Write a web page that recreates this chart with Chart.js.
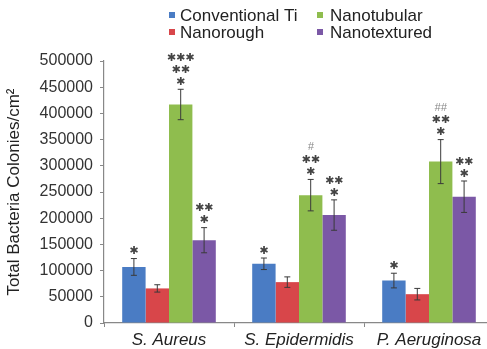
<!DOCTYPE html>
<html>
<head>
<meta charset="utf-8">
<script src="https://cdn.jsdelivr.net/npm/chart.js@4.4.1/dist/chart.umd.min.js"></script>
<style>
html,body{margin:0;padding:0;background:#fff;overflow:hidden;width:487px;height:349px;}
canvas{display:block;}
</style>
</head>
<body>
<canvas id="c" width="494" height="349"></canvas>
<script>
const categories = ['S. Aureus', 'S. Epidermidis', 'P. Aeruginosa'];
const seriesNames = ['Conventional Ti', 'Nanorough', 'Nanotubular', 'Nanotextured'];
const seriesColors = ['#4a7cc4', '#d8464a', '#8fbd4e', '#7b58a6'];
const conventional = [107000, 113000, 81000];
const nanorough = [66000, 78000, 55000];
const nanotubular = [417000, 244000, 308000];
const nanotextured = [158000, 206000, 241000];
const conventionalErr = [16000, 11000, 14000];
const nanoroughErr = [7000, 10000, 11000];
const nanotubularErr = [29000, 30000, 42000];
const nanotexturedErr = [24000, 29000, 30000];
const conventionalSig = [['*'], ['*'], ['*']];
const nanoroughSig = [[], [], []];
const nanotubularSig = [['***', '**', '*'], ['#', '**', '*'], ['##', '**', '*']];
const nanotexturedSig = [['**', '*'], ['**', '*'], ['**', '*']];
const yTicks = [0, 50000, 100000, 150000, 200000, 250000, 300000, 350000, 400000, 450000, 500000];

const values = [conventional, nanorough, nanotubular, nanotextured];
const errors = [conventionalErr, nanoroughErr, nanotubularErr, nanotexturedErr];
const sigs = [conventionalSig, nanoroughSig, nanotubularSig, nanotexturedSig];

const extras = {
  id: 'extras',
  afterDatasetsDraw(chart) {
    const ctx = chart.ctx;
    const y = chart.scales.y;
    ctx.save();
    values.forEach((vals, di) => {
      const meta = chart.getDatasetMeta(di);
      meta.data.forEach((bar, i) => {
        const x = bar.x;
        const v = vals[i], e = errors[di][i];
        const yt = y.getPixelForValue(v + e), yb = y.getPixelForValue(v - e);
        ctx.strokeStyle = '#3a3a3a';
        ctx.lineWidth = 1;
        ctx.beginPath();
        ctx.moveTo(x, yt); ctx.lineTo(x, yb);
        ctx.moveTo(x - 3, yt); ctx.lineTo(x + 3, yt);
        ctx.moveTo(x - 3, yb); ctx.lineTo(x + 3, yb);
        ctx.stroke();
        const lines = sigs[di][i];
        let cy = yt - 7;
        for (let k = lines.length - 1; k >= 0; k--) {
          const s = lines[k];
          ctx.textAlign = 'center';
          ctx.textBaseline = 'middle';
          if (s.indexOf('#') >= 0) {
            ctx.font = 'italic 11px "Liberation Sans", Arial, sans-serif';
            ctx.fillStyle = '#888';
            ctx.fillText(s, x, cy - 1);
            cy -= 14;
          } else {
            ctx.font = '11px "DejaVu Sans", sans-serif';
            ctx.fillStyle = '#444';
            ctx.fillText(s.replace(/\*/g, '\u2731'), x, cy);
            cy -= 12;
          }
        }
      });
    });
    // legend
    const legendPos = [[169, 180, 15], [169, 180, 32], [317, 330, 15], [317, 330, 32]];
    ctx.font = '17px "Liberation Sans", Arial, sans-serif';
    ctx.textAlign = 'left';
    ctx.textBaseline = 'middle';
    seriesNames.forEach((n, i) => {
      const p = legendPos[i];
      ctx.fillStyle = seriesColors[i];
      ctx.fillRect(p[0], p[2] - 3, 6, 6);
      ctx.fillStyle = '#222';
      ctx.fillText(n, p[1], p[2] + 1);
    });
    ctx.restore();
  }
};

new Chart(document.getElementById('c'), {
  type: 'bar',
  data: {
    labels: categories,
    datasets: seriesNames.map((n, i) => ({
      label: n,
      data: values[i],
      backgroundColor: seriesColors[i],
      borderWidth: 0,
      barPercentage: 1,
      categoryPercentage: 0.72
    }))
  },
  options: {
    responsive: false,
    animation: false,
    layout: { padding: { top: 61, left: 0, right: 0, bottom: 0 } },
    plugins: { legend: { display: false }, tooltip: { enabled: false } },
    scales: {
      x: {
        afterFit(s) { s.height = 26; },
        grid: { drawOnChartArea: false, drawTicks: true, tickLength: 4, color: '#888', offset: true },
        border: { color: '#888', width: 1.2 },
        ticks: { color: '#222', padding: 3, font: { family: '"Liberation Sans", Arial, sans-serif', size: 17, style: 'italic' } }
      },
      y: {
        min: 0, max: 500000,
        afterFit(s) { s.width = 104; },
        afterBuildTicks(s) { s.ticks = yTicks.map(v => ({ value: v })); },
        grid: { drawOnChartArea: false, drawTicks: true, tickLength: 4, color: '#888' },
        border: { color: '#888', width: 1.2 },
        ticks: { color: '#333', padding: 7, font: { family: '"Liberation Sans", Arial, sans-serif', size: 16 }, callback: v => String(v) },
        title: { display: true, text: 'Total Bacteria Colonies/cm\u00b2', color: '#222', padding: { top: 4, bottom: 0 }, font: { family: '"Liberation Sans", Arial, sans-serif', size: 17 } }
      }
    }
  },
  plugins: [extras]
});
</script>
</body>
</html>
